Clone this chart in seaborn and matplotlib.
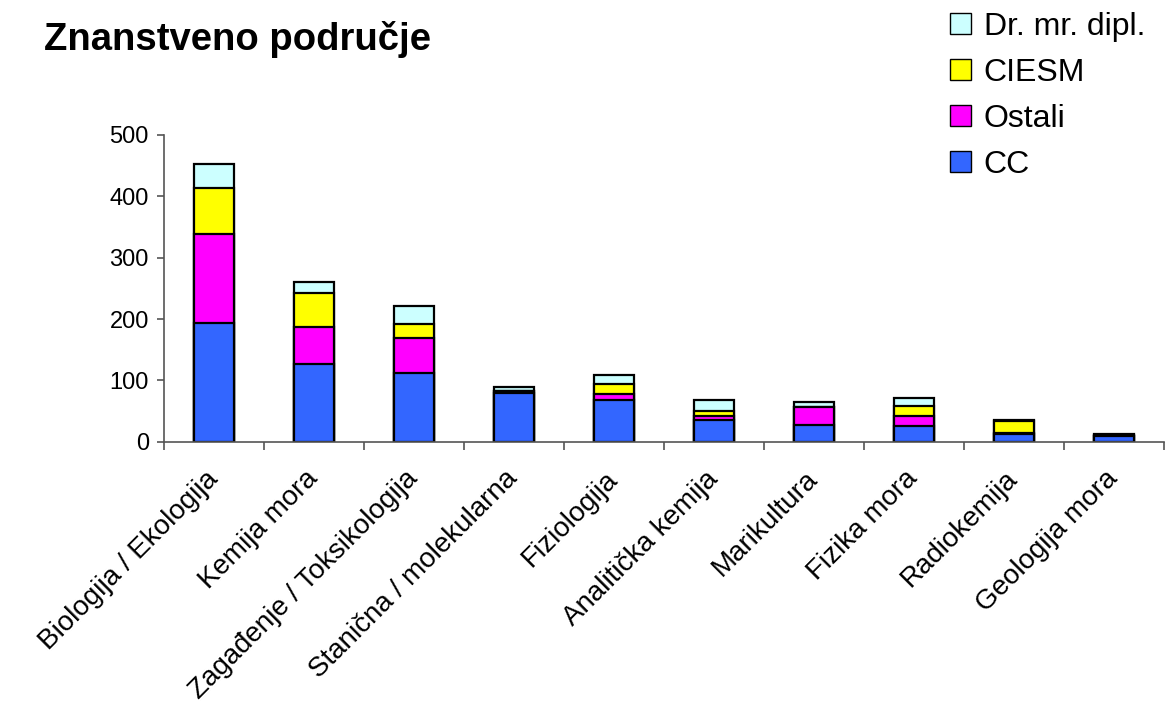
import numpy as np
import pandas as pd
import seaborn as sns
import matplotlib.pyplot as plt
from matplotlib.patches import Patch

kategorije = ["Biologija / Ekologija", "Kemija mora", "Zagađenje / Toksikologija",
              "Stanična / molekularna", "Fiziologija", "Analitička kemija",
              "Marikultura", "Fizika mora", "Radiokemija", "Geologija mora"]
cc = [193, 126, 112, 80, 68, 36, 27, 25, 13, 9]
ostali = [145, 61, 57, 2, 9, 6, 29, 17, 2, 1]
ciesm = [76, 55, 23, 1, 17, 8, 1, 17, 18, 1]
dr_mr = [38, 18, 30, 6, 15, 18, 7, 12, 3, 2]

serije = ["CC", "Ostali", "CIESM", "Dr. mr. dipl."]
boje = ["#3366FF", "#FF00FF", "#FFFF00", "#CCFFFF"]

sns.set_style("white")
plt.rcParams['font.family'] = ['Liberation Sans', 'DejaVu Sans']
plt.rcParams['text.color'] = 'black'
plt.rcParams['xtick.color'] = 'black'
plt.rcParams['ytick.color'] = 'black'

df = pd.DataFrame({"kat": kategorije, "CC": cc, "Ostali": ostali,
                   "CIESM": ciesm, "Dr. mr. dipl.": dr_mr})
kum = df[serije].cumsum(axis=1)

fig = plt.figure(figsize=(11.65, 7.09), dpi=100)
ax = fig.add_axes([0.1408, 0.377, 0.858, 0.4326])

# stacked: draw the cumulative totals from top to bottom
for s, c in reversed(list(zip(serije, boje))):
    sns.barplot(x=df["kat"], y=kum[s], color=c, edgecolor="black",
                linewidth=1.6, width=0.4, ax=ax, saturation=1)

ax.set_xlim(-0.5, 9.5)
ax.set_ylim(0, 500)
ax.set_yticks([0, 100, 200, 300, 400, 500])
ax.set_xlabel("")
ax.set_ylabel("")
for sp in ["top", "right"]:
    ax.spines[sp].set_visible(False)
for sp in ["left", "bottom"]:
    ax.spines[sp].set_color("#555555")
    ax.spines[sp].set_linewidth(1.2)

ax.set_xticks(np.arange(10))
ax.set_xticklabels(kategorije, rotation=45, ha="right", va="center",
                   rotation_mode="anchor", fontsize=20)
ax.tick_params(axis="x", which="major", length=0, pad=24)
ax.set_xticks(np.arange(-0.5, 10, 1), minor=True)
ax.tick_params(axis="x", which="minor", length=6, width=1.2, color="#555555",
               direction="out", bottom=True)
ax.tick_params(axis="y", length=5, width=1.2, color="#555555", direction="out",
               left=True, labelsize=17, labelcolor="black", pad=6)

fig.text(0.038, 0.971, "Znanstveno područje", fontsize=27.5, fontweight="bold",
         va="top", ha="left")

handles = [Patch(facecolor=c, edgecolor="black", label=s)
           for s, c in reversed(list(zip(serije, boje)))]
fig.legend(handles=handles, loc="upper left", bbox_to_anchor=(0.791, 1.024),
           frameon=False, fontsize=23, handlelength=0.65, handleheight=0.65,
           handletextpad=0.4, labelspacing=0.5)

fig.savefig("out.png", dpi=100)
